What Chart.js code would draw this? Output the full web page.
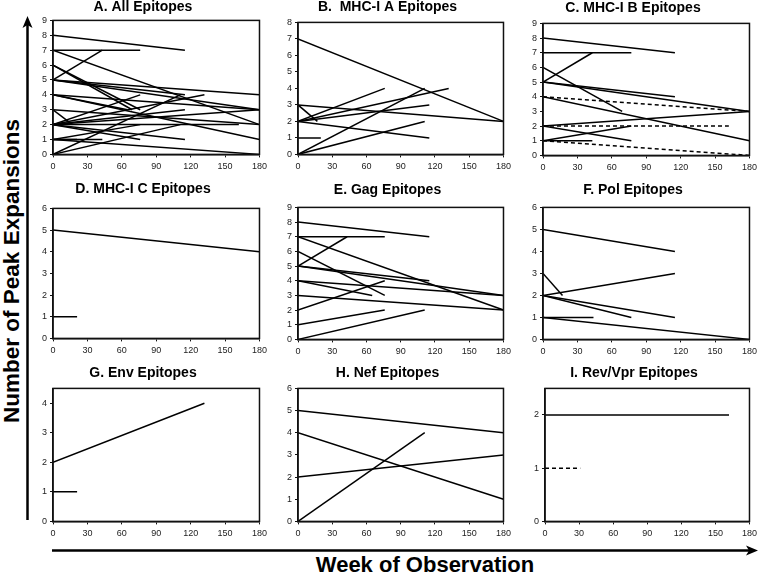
<!DOCTYPE html>
<html>
<head>
<meta charset="utf-8">
<script src="https://cdn.jsdelivr.net/npm/chart.js@4"></script>
<style>
  body { margin: 0; background: #fff; }
  #page { position: relative; width: 760px; height: 574px; overflow: hidden; font-family: "Liberation Sans", Arial, sans-serif; }
  .panel { position: absolute; }
  #ylab { position: absolute; left: 12px; top: 271px; transform: translate(-50%, -50%) rotate(-90deg); font-weight: bold; font-size: 22.5px; white-space: nowrap; }
  #xlab { position: absolute; left: 425px; top: 565px; transform: translate(-50%, -50%); font-weight: bold; font-size: 22px; white-space: nowrap; }
  svg { position: absolute; left: 0; top: 0; }
</style>
</head>
<body>
<div id="page">
  <svg width="760" height="574">
    <line x1="27.5" y1="520" x2="27.5" y2="24" stroke="#000" stroke-width="2.5"/>
    <polygon points="27.5,16 22.5,28 27.5,25 32.5,28" fill="#000"/>
    <line x1="52" y1="550.5" x2="750" y2="550.5" stroke="#000" stroke-width="2.5"/>
    <polygon points="758,550.5 746,545.5 749,550.5 746,555.5" fill="#000"/>
  </svg>
  <div id="ylab">Number of Peak Expansions</div>
  <div id="xlab">Week of Observation</div>
</div>
<script>
// each segment: [start week, start peaks, end week, end peaks]
const weekTicks = [0, 30, 60, 90, 120, 150, 180];

const allSegs = [
  [0, 8, 115, 7], [0, 7, 76, 7], [0, 5, 43, 7], [0, 7, 180, 2], [0, 6, 76, 3], [0, 6, 69, 3],
  [0, 5, 180, 4], [0, 5, 115, 4], [0, 5, 180, 3], [0, 4, 180, 3], [0, 4, 180, 1], [0, 4, 65, 3],
  [0, 3, 180, 2], [0, 3, 17, 2],
  [0, 2, 76, 4], [0, 2, 132, 4], [0, 2, 115, 3], [0, 2, 180, 3], [0, 2, 162, 2], [0, 2, 115, 1], [0, 2, 76, 1],
  [0, 1, 43, 1], [0, 1, 21, 1], [0, 1, 76, 2], [0, 1, 180, 0],
  [0, 0, 111, 4], [0, 0, 111, 2]
];
const mhcASegs = [
  [0, 7, 180, 2], [0, 3, 180, 2], [0, 3, 17, 2], [0, 2, 76, 4], [0, 2, 132, 4],
  [0, 2, 115, 3], [0, 2, 115, 1], [0, 1, 20, 1], [0, 0, 111, 4], [0, 0, 111, 2]
];
const mhcBSegs = [
  [0, 8, 115, 7], [0, 7, 77, 7], [0, 5, 43, 7], [0, 6, 69, 3], [0, 5, 115, 4], [0, 5, 180, 3],
  [0, 4, 180, 1], [0, 2, 180, 3], [0, 2, 77, 1], [0, 1, 77, 2], [0, 1, 43, 1]
];
const mhcBDashed = [[0, 4, 180, 3], [0, 2, 162, 2], [0, 1, 180, 0]];
const mhcCSegs = [[0, 5, 180, 4], [0, 1, 21, 1]];
const gagSegs = [
  [0, 8, 115, 7], [0, 7, 76, 7], [0, 5, 43, 7], [0, 7, 180, 2], [0, 6, 76, 3],
  [0, 5, 115, 4], [0, 5, 180, 3], [0, 4, 180, 3], [0, 4, 65, 3], [0, 3, 180, 2],
  [0, 2, 76, 4], [0, 1, 76, 2], [0, 0, 111, 2]
];
const polSegs = [
  [0, 5, 115, 4], [0, 3, 17, 2], [0, 2, 115, 3], [0, 2, 115, 1], [0, 2, 77, 1], [0, 1, 44, 1], [0, 1, 180, 0]
];
const envSegs = [[0, 2, 132, 4], [0, 1, 21, 1]];
const nefSegs = [[0, 5, 180, 4], [0, 4, 180, 1], [0, 2, 180, 3], [0, 0, 111, 4]];
const revVprSegs = [[0, 2, 162, 2]];
const revVprDashed = [[0, 1, 31, 1]];

// panel layout: plot box [left, top, right, bottom] and title centre y
const panels = [
  { title: 'A. All Epitopes', segs: allSegs, dashed: [], yMax: 9, box: [53, 20, 261, 154], titleY: 7 },
  { title: 'B.  MHC-I A Epitopes', segs: mhcASegs, dashed: [], yMax: 8, box: [298, 22, 505, 154], titleY: 7 },
  { title: 'C. MHC-I B Epitopes', segs: mhcBSegs, dashed: mhcBDashed, yMax: 9, box: [543, 23, 751, 155], titleY: 8 },
  { title: 'D. MHC-I C Epitopes', segs: mhcCSegs, dashed: [], yMax: 6, box: [53, 208, 261, 338], titleY: 189 },
  { title: 'E. Gag Epitopes', segs: gagSegs, dashed: [], yMax: 9, box: [298, 207, 505, 339], titleY: 190 },
  { title: 'F. Pol Epitopes', segs: polSegs, dashed: [], yMax: 6, box: [543, 207, 751, 339], titleY: 190 },
  { title: 'G. Env Epitopes', segs: envSegs, dashed: [], yMax: 4.5, box: [53, 388, 261, 521], titleY: 373 },
  { title: 'H. Nef Epitopes', segs: nefSegs, dashed: [], yMax: 6, box: [298, 388, 505, 521], titleY: 373 },
  { title: 'I. Rev/Vpr Epitopes', segs: revVprSegs, dashed: revVprDashed, yMax: 2.5, box: [545, 388, 751, 521], titleY: 373 }
];

const Y_AXIS_W = 28;
const X_AXIS_H = 20;
const PAD_RIGHT = 10;
const TITLE_SIZE = 14;
const TITLE_LINE = TITLE_SIZE * 1.2;

// frame round the plot area, like the Excel box
const framePlugin = {
  id: 'frame',
  afterDatasetsDraw(chart) {
    const a = chart.chartArea;
    const ctx = chart.ctx;
    ctx.save();
    ctx.strokeStyle = '#111';
    ctx.lineWidth = 1.5;
    ctx.strokeRect(a.left, a.top, a.right - a.left, a.bottom - a.top);
    ctx.restore();
  }
};

function toDataset(seg, dashed) {
  return {
    data: [{ x: seg[0], y: seg[1] }, { x: seg[2], y: seg[3] }],
    showLine: true,
    borderColor: '#000',
    borderWidth: 1.5,
    borderDash: dashed ? [4, 3] : [],
    pointRadius: 0,
    pointHoverRadius: 0,
    fill: false
  };
}

const page = document.getElementById('page');

panels.forEach(function (p) {
  const [left, top, right, bottom] = p.box;
  const canvasTop = p.titleY - TITLE_LINE / 2;
  const titleGap = top - canvasTop - TITLE_LINE;
  const w = (right - left) + Y_AXIS_W + PAD_RIGHT;
  const h = (bottom - canvasTop) + X_AXIS_H;

  const holder = document.createElement('div');
  holder.className = 'panel';
  holder.style.left = (left - Y_AXIS_W) + 'px';
  holder.style.top = canvasTop + 'px';
  holder.style.width = w + 'px';
  holder.style.height = h + 'px';
  const canvas = document.createElement('canvas');
  holder.appendChild(canvas);
  page.appendChild(holder);

  const datasets = p.segs.map(s => toDataset(s, false)).concat(p.dashed.map(s => toDataset(s, true)));

  new Chart(canvas, {
    type: 'scatter',
    data: { datasets: datasets },
    options: {
      responsive: true,
      maintainAspectRatio: false,
      animation: false,
      layout: { padding: { left: 0, right: PAD_RIGHT, top: 0, bottom: 0 } },
      plugins: {
        legend: { display: false },
        tooltip: { enabled: false },
        title: {
          display: true,
          text: p.title,
          color: '#000',
          font: { family: '"Liberation Sans", Arial, sans-serif', size: TITLE_SIZE, weight: 'bold' },
          padding: { top: 0, bottom: titleGap }
        }
      },
      scales: {
        x: {
          type: 'linear',
          min: 0,
          max: 180,
          afterBuildTicks: axis => { axis.ticks = weekTicks.map(v => ({ value: v })); },
          afterFit: axis => { axis.height = X_AXIS_H; },
          grid: { drawOnChartArea: false, tickLength: 3, color: '#111' },
          border: { color: '#111', width: 1.5 },
          ticks: { color: '#222', padding: 4, maxRotation: 0, font: { family: '"Liberation Sans", Arial, sans-serif', size: 9 } }
        },
        y: {
          type: 'linear',
          min: 0,
          max: p.yMax,
          afterFit: axis => { axis.width = Y_AXIS_W; },
          grid: { drawOnChartArea: false, tickLength: 3, color: '#111' },
          border: { color: '#111', width: 1.5 },
          ticks: { stepSize: 1, includeBounds: false, color: '#222', padding: 3, font: { family: '"Liberation Sans", Arial, sans-serif', size: 9 } }
        }
      }
    },
    plugins: [framePlugin]
  });
});
</script>
</body>
</html>
